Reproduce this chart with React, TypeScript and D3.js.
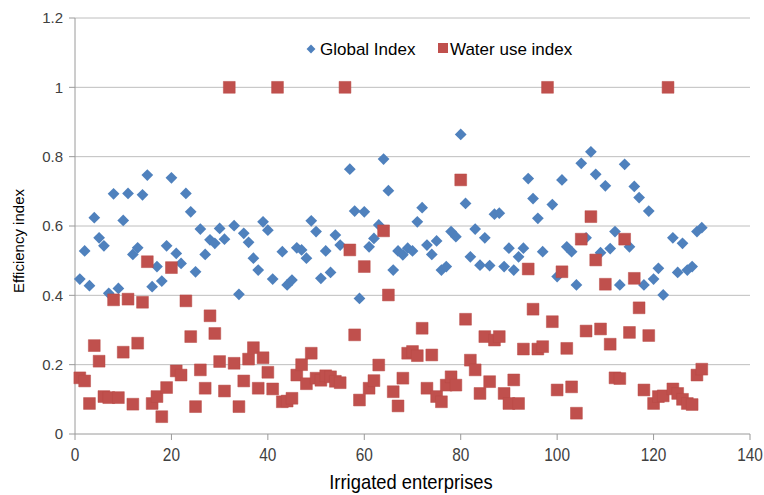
import React from "react";
import * as d3 from "d3";

const W = 764;
const H = 495;

// Enterprise numbers (x categories)
const enterprises: number[] = d3.range(1, 131);

// Global Index (null where not plotted)
const globalIndex: (number | null)[] = [
  0.447, 0.528, 0.428, 0.624, 0.566, 0.543, 0.406, 0.693, 0.42, 0.616,
  0.694, 0.518, 0.537, 0.69, 0.747, 0.425, 0.483, 0.441, 0.543, 0.739,
  0.521, 0.492, 0.694, 0.641, 0.468, 0.591, 0.518, 0.56, 0.55, 0.593,
  0.562, null, 0.601, 0.403, 0.579, 0.553, 0.507, 0.473, 0.612, 0.588,
  0.447, null, 0.526, 0.43, 0.444, 0.537, 0.531, 0.507, 0.615, 0.584,
  0.449, 0.528, 0.466, 0.574, 0.545, null, 0.764, 0.643, 0.391, 0.641,
  0.54, 0.564, 0.603, 0.793, 0.702, 0.473, 0.528, 0.517, 0.536, 0.528,
  0.612, 0.653, 0.545, 0.518, 0.557, 0.473, 0.483, 0.584, 0.569, 0.864,
  0.665, 0.511, 0.591, 0.487, 0.566, 0.486, 0.634, 0.637, 0.483, 0.536,
  0.473, 0.511, 0.536, 0.737, 0.679, 0.622, 0.526, null, 0.662, 0.454,
  0.733, 0.54, 0.526, 0.43, 0.781, 0.566, 0.814, 0.749, 0.523, 0.716,
  0.535, 0.584, 0.43, 0.778, 0.54, 0.714, 0.682, 0.43, 0.643, 0.447,
  0.478, 0.401, null, 0.566, 0.466, 0.55, 0.473, 0.483, 0.584, 0.595,
];

// Water use index
const waterUseIndex: number[] = [
  0.162, 0.153, 0.088, 0.255, 0.21, 0.108, 0.105, 0.387, 0.105, 0.236,
  0.389, 0.086, 0.262, 0.38, 0.497, 0.088, 0.108, 0.05, 0.134, 0.48,
  0.182, 0.17, 0.384, 0.281, 0.079, 0.185, 0.132, 0.341, 0.29, 0.209,
  0.124, 1.0, 0.204, 0.079, 0.153, 0.216, 0.249, 0.132, 0.22, 0.178,
  0.13, 1.0, 0.093, 0.095, 0.103, 0.17, 0.2, 0.145, 0.233, 0.161,
  0.155, 0.168, 0.165, 0.152, 0.148, 1.0, 0.531, 0.286, 0.098, 0.483,
  0.132, 0.154, 0.199, 0.586, 0.401, 0.122, 0.081, 0.161, 0.233, 0.238,
  0.226, 0.305, 0.132, 0.228, 0.108, 0.093, 0.141, 0.165, 0.141, 0.733,
  0.331, 0.213, 0.185, 0.117, 0.281, 0.151, 0.271, 0.281, 0.117, 0.088,
  0.156, 0.088, 0.245, 0.476, 0.36, 0.245, 0.252, 1.0, 0.324, 0.127,
  0.468, 0.247, 0.136, 0.06, 0.562, 0.297, 0.627, 0.502, 0.303, 0.432,
  0.259, 0.162, 0.16, 0.562, 0.293, 0.449, 0.364, 0.127, 0.284, 0.088,
  0.108, 0.11, 1.0, 0.13, 0.117, 0.1, 0.088, 0.085, 0.17, 0.187,
];

const xTicks: number[] = [0, 20, 40, 60, 80, 100, 120, 140];
const yTicks: number[] = [0, 0.2, 0.4, 0.6, 0.8, 1, 1.2];
const yTickLabels: string[] = ["0", "0.2", "0.4", "0.6", "0.8", "1", "1.2"];

const seriesNames: string[] = ["Global Index", "Water use index"];
const BLUE = "#4F81BD";
const RED = "#C0504D";
const FONT = "'Liberation Sans', Arial, sans-serif";

export default function App() {
  const x = d3.scaleLinear().domain([0, 140]).range([75, 750]);
  const y = d3.scaleLinear().domain([0, 1.2]).range([434, 18]);

  const diamond = d3.symbol().type(d3.symbolDiamond2).size(88)();
  const square = d3.symbol().type(d3.symbolSquare).size(140)();

  const blueData = enterprises
    .map((e, i) => ({ e, v: globalIndex[i] }))
    .filter((d) => d.v !== null) as { e: number; v: number }[];
  const redData = enterprises.map((e, i) => ({ e, v: waterUseIndex[i] }));

  return (
    <svg
      width={W}
      height={H}
      style={{ position: "absolute", left: 0, top: 0, display: "block", background: "#fff" }}
    >
      {/* gridlines */}
      {yTicks.slice(1).map((t) => (
        <line key={"g" + t} x1={x(0)} x2={x(140)} y1={y(t)} y2={y(t)} stroke="#BEBEBE" strokeWidth={1} />
      ))}
      {/* axes */}
      <line x1={x(0)} x2={x(0)} y1={y(1.2)} y2={y(0)} stroke="#9A9A9A" strokeWidth={1} />
      <line x1={x(0)} x2={x(140)} y1={y(0)} y2={y(0)} stroke="#9A9A9A" strokeWidth={1} />
      {yTicks.map((t) => (
        <line key={"yt" + t} x1={x(0) - 6} x2={x(0)} y1={y(t)} y2={y(t)} stroke="#9A9A9A" />
      ))}
      {xTicks.map((t) => (
        <line key={"xt" + t} x1={x(t)} x2={x(t)} y1={y(0)} y2={y(0) + 6} stroke="#9A9A9A" />
      ))}
      {/* y tick labels */}
      {yTicks.map((t, i) => (
        <text
          key={"yl" + t}
          x={63}
          y={y(t)}
          dy="0.35em"
          textAnchor="end"
          fontFamily={FONT}
          fontSize={15}
          fill="#404040"
        >
          {yTickLabels[i]}
        </text>
      ))}
      {/* x tick labels (condensed) */}
      {xTicks.map((t) => (
        <g key={"xl" + t} transform={`translate(${x(t)},461) scale(0.88,1)`}>
          <text x={0} y={0} textAnchor="middle" fontFamily={FONT} fontSize={17.5} fill="#404040">
            {t}
          </text>
        </g>
      ))}
      {/* axis titles */}
      <g transform="translate(411,489) scale(0.92,1)">
        <text x={0} y={0} textAnchor="middle" fontFamily={FONT} fontSize={20} fill="#000">
          Irrigated enterprises
        </text>
      </g>
      <text
        transform="translate(24,241) rotate(-90)"
        textAnchor="middle"
        fontFamily={FONT}
        fontSize={15}
        fill="#000"
      >
        Efficiency index
      </text>
      {/* series */}
      <g>
        {blueData.map((d) => (
          <path key={"b" + d.e} d={diamond!} transform={`translate(${x(d.e)},${y(d.v)})`} fill={BLUE} />
        ))}
      </g>
      <g>
        {redData.map((d) => (
          <path
            key={"r" + d.e}
            d={square!}
            transform={`translate(${x(d.e)},${y(d.v)})`}
            fill={RED}
            stroke="#B94A47"
            strokeWidth={0.5}
          />
        ))}
      </g>
      {/* legend */}
      <path d={d3.symbol().type(d3.symbolDiamond2).size(50)()!} transform="translate(311,49)" fill={BLUE} />
      <text x={320} y={55} fontFamily={FONT} fontSize={17} fill="#000">
        {seriesNames[0]}
      </text>
      <rect x={438} y={43} width={10} height={10} fill={RED} />
      <text x={450} y={55} fontFamily={FONT} fontSize={17} fill="#000">
        {seriesNames[1]}
      </text>
    </svg>
  );
}
